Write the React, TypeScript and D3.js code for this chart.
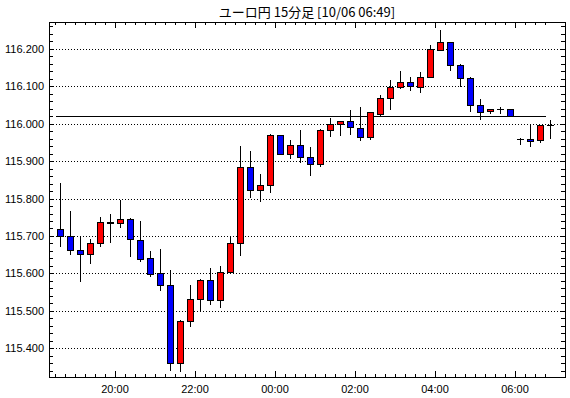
import * as React from 'react'
import * as d3 from 'd3'

const title = 'ユーロ円 15分足 [10/06 06:49]'

const times = [
    '18:30', '18:45', '19:00', '19:15', '19:30', '19:45', '20:00', '20:15', '20:30', '20:45',
    '21:00', '21:15', '21:30', '21:45', '22:00', '22:15', '22:30', '22:45', '23:00', '23:15',
    '23:30', '23:45', '00:00', '00:15', '00:30', '00:45', '01:00', '01:15', '01:30', '01:45',
    '02:00', '02:15', '02:30', '02:45', '03:00', '03:15', '03:30', '03:45', '04:00', '04:15',
    '04:30', '04:45', '05:00', '05:15', '05:30', '05:45', '06:00', '06:15', '06:30', '06:45',
]

const opens = [
    115.718, 115.699, 115.662, 115.651, 115.680, 115.737, 115.734, 115.745, 115.689, 115.640,
    115.600, 115.568, 115.360, 115.472, 115.531, 115.582, 115.528, 115.603, 115.680, 115.883,
    115.822, 115.835, 115.969, 115.918, 115.942, 115.910, 115.892, 115.982, 115.998, 116.006,
    115.988, 115.964, 116.027, 116.068, 116.097, 116.112, 116.099, 116.125, 116.196, 116.217,
    116.157, 116.121, 116.051, 116.033, 116.038, 116.038, 115.958, 115.958, 115.956, 115.996,
]
const highs = [
    115.844, 115.769, 115.699, 115.694, 115.753, 115.761, 115.798, 115.751, 115.743, 115.663,
    115.669, 115.612, 115.478, 115.572, 115.588, 115.617, 115.623, 115.703, 115.943, 115.930,
    115.868, 115.974, 115.972, 115.959, 115.986, 115.940, 115.988, 116.019, 116.006, 116.038,
    116.047, 116.030, 116.079, 116.119, 116.143, 116.127, 116.140, 116.213, 116.253, 116.220,
    116.161, 116.127, 116.069, 116.042, 116.047, 116.038, 115.965, 115.998, 115.996, 116.012,
]
const lows = [
    115.673, 115.653, 115.581, 115.629, 115.674, 115.684, 115.725, 115.647, 115.634, 115.594,
    115.557, 115.343, 115.340, 115.460, 115.499, 115.519, 115.511, 115.603, 115.649, 115.805,
    115.794, 115.818, 115.918, 115.909, 115.898, 115.864, 115.888, 115.966, 115.969, 115.972,
    115.956, 115.958, 116.021, 116.040, 116.095, 116.090, 116.085, 116.125, 116.196, 116.143,
    116.101, 116.035, 116.012, 116.028, 116.028, 116.020, 115.947, 115.940, 115.952, 115.963,
]
const closes = [
    115.699, 115.662, 115.651, 115.680, 115.737, 115.735, 115.745, 115.691, 115.639, 115.599,
    115.568, 115.360, 115.472, 115.531, 115.582, 115.528, 115.603, 115.680, 115.883, 115.822,
    115.835, 115.969, 115.918, 115.942, 115.910, 115.892, 115.982, 115.998, 116.006, 115.990,
    115.964, 116.030, 116.068, 116.097, 116.112, 116.101, 116.125, 116.199, 116.217, 116.156,
    116.121, 116.051, 116.032, 116.039, 116.038, 116.020, 115.958, 115.955, 115.996, 115.996,
]

const gridValues = [115.4, 115.5, 115.6, 115.7, 115.8, 115.9, 116.0, 116.1, 116.2]
const xTickLabels = ['20:00', '22:00', '00:00', '02:00', '04:00', '06:00']
const refLevel = 116.02

const W = 570
const H = 398
const LEFT = 49
const RIGHT = 565
const TOP = 22
const BOTTOM = 377
const LABEL_FONT = '"Liberation Sans", Arial, sans-serif'

const px = (v: number) => Math.round(v) + 0.5

export default function App() {
    const x = d3.scaleLinear().domain([0, times.length - 1]).range([60, 550])
    const y = d3.scaleLinear().domain([115.3233, 116.2716]).range([BOTTOM, TOP])

    const minorY = d3.range(115.34, 116.27, 0.02)

    return <svg width={W} height={H} style={{ position: 'absolute', left: 0, top: 0, background: '#fff' }} shapeRendering="crispEdges">
        <rect x={0} y={0} width={W} height={H} fill="#fff" />
        <text x={(LEFT + RIGHT) / 2} y={17} textAnchor="middle" fontSize={13}
            fontFamily='"Noto Sans CJK JP", sans-serif' fill="#000">{title}</text>

        {/* grid */}
        {gridValues.map((v, i) =>
            <line key={'g' + i} x1={LEFT + 1} x2={RIGHT} y1={px(y(v))} y2={px(y(v))}
                stroke="#000" strokeDasharray="1,2" />
        )}
        {gridValues.map((v, i) =>
            <text key={'yl' + i} x={44} y={y(v)} textAnchor="end" dominantBaseline="central"
                fontSize={11} fontFamily={LABEL_FONT} fill="#000">{v.toFixed(3)}</text>
        )}

        {/* y ticks on both sides */}
        {minorY.map((v, i) =>
            <g key={'yt' + i}>
                <line x1={LEFT} x2={LEFT + 4} y1={px(y(v))} y2={px(y(v))} stroke="#000" />
                <line x1={RIGHT - 4} x2={RIGHT} y1={px(y(v))} y2={px(y(v))} stroke="#000" />
            </g>
        )}

        {/* x ticks on top and bottom */}
        {times.map((t, i) => {
            const major = xTickLabels.indexOf(t) >= 0
            const len = major ? 6 : 3
            const tx = px(x(i - 0.5))
            return <g key={'xt' + i}>
                <line x1={tx} x2={tx} y1={TOP} y2={TOP + len} stroke="#000" />
                <line x1={tx} x2={tx} y1={BOTTOM - len} y2={BOTTOM} stroke="#000" />
                {major && <text x={x(i - 0.5)} y={389} textAnchor="middle" dominantBaseline="central"
                    fontSize={11} fontFamily={LABEL_FONT} fill="#000">{t}</text>}
            </g>
        })}

        {/* reference level */}
        <line x1={px(x(-0.5))} x2={px(x(times.length - 1.5))} y1={px(y(refLevel))} y2={px(y(refLevel))} stroke="#000" />

        {/* candles */}
        {times.map((t, i) => {
            const cx = px(x(i))
            const o = opens[i], c = closes[i]
            const yTop = Math.round(y(Math.max(o, c))) + 0.5
            const yBot = Math.round(y(Math.min(o, c))) + 0.5
            const fill = c > o ? '#ff0000' : '#0000ff'
            return <g key={'c' + i}>
                <line x1={cx} x2={cx} y1={px(y(highs[i]))} y2={px(y(lows[i]))} stroke="#000" />
                {o === c
                    ? <line x1={cx - 3.5} x2={cx + 3.5} y1={yTop} y2={yTop} stroke="#000" />
                    : <rect x={cx - 3} y={yTop} width={6} height={Math.max(yBot - yTop, 1)}
                        fill={fill} stroke="#000" />}
            </g>
        })}

        <rect x={LEFT + 0.5} y={TOP + 0.5} width={RIGHT - LEFT} height={BOTTOM - TOP} fill="none" stroke="#000" />
    </svg>
}
